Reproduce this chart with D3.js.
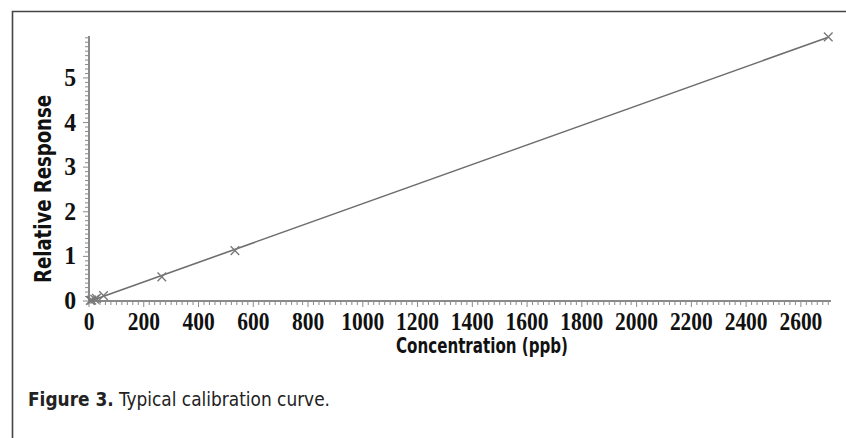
<!DOCTYPE html>
<html>
<head>
<meta charset="utf-8">
<script src="https://cdn.jsdelivr.net/npm/d3@7"></script>
<style>
  html, body { margin: 0; padding: 0; background: #fff; }
  svg { display: block; }
</style>
</head>
<body>
<svg id="chart" width="846" height="438"></svg>
<script>
// Calibration standards: concentration (ppb) and relative response
const concentration = [5, 10, 21, 27, 53, 266, 533, 2700];
const response = [0.01, 0.02, 0.04, 0.06, 0.12, 0.54, 1.13, 5.92];
const xTickValues = [0, 200, 400, 600, 800, 1000, 1200, 1400, 1600, 1800, 2000, 2200, 2400, 2600];
const yTickValues = [0, 1, 2, 3, 4, 5];

const svg = d3.select("#chart");
const W = 846, H = 438;
const narrow = "'Liberation Sans Narrow', 'DejaVu Sans Condensed', 'Arial Narrow', sans-serif";

// Outer figure frame (left and top edges)
svg.append("path")
  .attr("d", `M12.5,${H} V11.5 H${W}`)
  .attr("fill", "none")
  .attr("stroke", "#444")
  .attr("stroke-width", 1.6);

const x = d3.scaleLinear().domain([0, 2710]).range([89, 831]);
const y = d3.scaleLinear().domain([0, 5.94]).range([301, 36]);

const axisColor = "#8a8a8a";

// Minor ticks on x (every 20 ppb)
const xMinor = d3.range(0, 2711, 20);
svg.append("g").selectAll("line").data(xMinor).join("line")
  .attr("x1", d => x(d)).attr("x2", d => x(d))
  .attr("y1", 301).attr("y2", d => d % 200 === 0 ? 307 : 305)
  .attr("stroke", axisColor).attr("stroke-width", 1);

// Minor ticks on y (every 0.1)
const yMinor = d3.range(0, 59.5, 1).map(d => d / 10);
svg.append("g").selectAll("line").data(yMinor).join("line")
  .attr("y1", d => y(d)).attr("y2", d => y(d))
  .attr("x1", 89).attr("x2", (d, i) => i % 10 === 0 ? 83 : 85)
  .attr("stroke", axisColor).attr("stroke-width", 1);

// Axis lines
svg.append("line").attr("x1", 88).attr("x2", 831).attr("y1", 301).attr("y2", 301)
  .attr("stroke", axisColor).attr("stroke-width", 2);
svg.append("line").attr("x1", 89).attr("x2", 89).attr("y1", 36).attr("y2", 302)
  .attr("stroke", axisColor).attr("stroke-width", 2);

// Tick labels (bold serif, slightly condensed)
svg.append("g").selectAll("text").data(xTickValues).join("text")
  .attr("transform", d => `translate(${x(d)},330) scale(0.86,1)`)
  .attr("text-anchor", "middle")
  .attr("font-family", "'Liberation Serif', serif")
  .attr("font-weight", "bold")
  .attr("font-size", 25)
  .attr("fill", "#111")
  .text(d => d);

svg.append("g").selectAll("text").data(yTickValues).join("text")
  .attr("transform", d => `translate(76,${y(d) + 8}) scale(0.95,1)`)
  .attr("text-anchor", "end")
  .attr("font-family", "'Liberation Serif', serif")
  .attr("font-weight", "bold")
  .attr("font-size", 25)
  .attr("fill", "#111")
  .text(d => d);

// Axis titles
svg.append("text")
  .attr("x", 396).attr("y", 353)
  .attr("textLength", 172)
  .attr("lengthAdjust", "spacingAndGlyphs")
  .attr("font-family", narrow)
  .attr("font-weight", "bold")
  .attr("font-size", 22)
  .attr("fill", "#111")
  .text("Concentration (ppb)");

svg.append("text")
  .attr("transform", "translate(51,283) rotate(-90)")
  .attr("textLength", 188)
  .attr("lengthAdjust", "spacingAndGlyphs")
  .attr("font-family", narrow)
  .attr("font-weight", "bold")
  .attr("font-size", 23)
  .attr("fill", "#111")
  .text("Relative Response");

// Least-squares calibration line
const mx = d3.mean(concentration), my = d3.mean(response);
const slope = d3.sum(concentration, (c, i) => (c - mx) * (response[i] - my)) /
              d3.sum(concentration, c => (c - mx) ** 2);
const intercept = my - slope * mx;
const fitX = [0, d3.max(concentration)];
svg.append("path")
  .datum(fitX)
  .attr("d", d3.line().x(d => x(d)).y(d => y(intercept + slope * d)))
  .attr("fill", "none")
  .attr("stroke", "#6e6e6e")
  .attr("stroke-width", 1.6);

// Standards as × markers
const pts = concentration.map((c, i) => [c, response[i]]);
svg.append("g").selectAll("path").data(pts).join("path")
  .attr("d", d3.symbol(d3.symbolX, 50))
  .attr("transform", d => `translate(${x(d[0])},${y(d[1])})`)
  .attr("fill", "none")
  .attr("stroke", "#7a7a7a")
  .attr("stroke-width", 1.4);

// Caption
const cap = svg.append("text")
  .attr("x", 28).attr("y", 406)
  .attr("textLength", 302)
  .attr("lengthAdjust", "spacingAndGlyphs")
  .attr("font-family", narrow)
  .attr("font-size", 20)
  .attr("fill", "#222");
cap.append("tspan").attr("font-weight", "bold").text("Figure 3.");
cap.append("tspan").text(" Typical calibration curve.");
</script>
</body>
</html>
